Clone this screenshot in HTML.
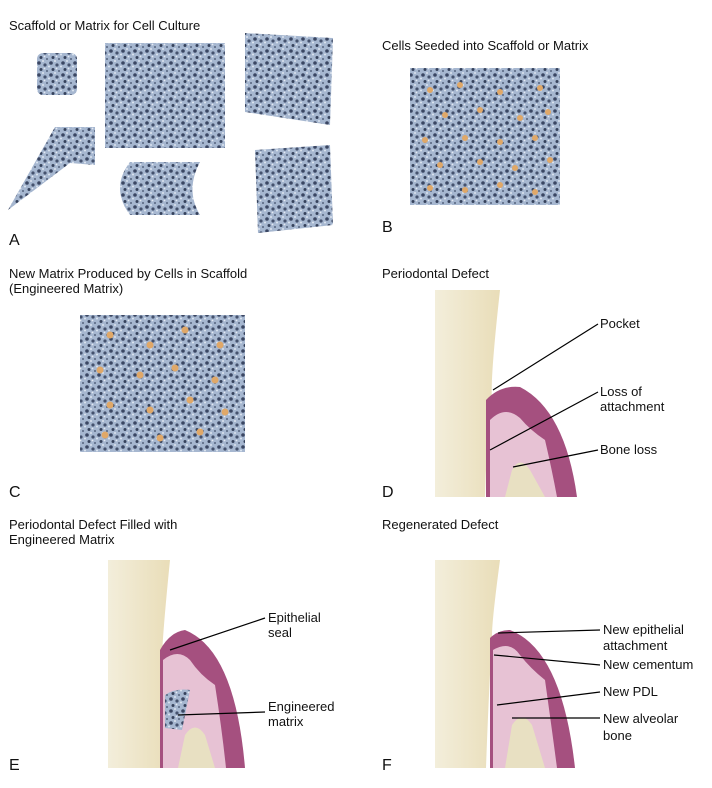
<!DOCTYPE html>
<html><head><style>
body{margin:0;background:#fff;width:712px;height:783px;overflow:hidden}
svg text{font-family:"Liberation Sans",sans-serif;font-size:13px;fill:#111}
.lt{font-size:16px}
</style></head><body>
<svg width="712" height="783" viewBox="0 0 712 783">
<defs>
<pattern id="foam" width="12" height="12" patternUnits="userSpaceOnUse">
<rect width="12" height="12" fill="#a6b7d0"/>
<circle cx="3" cy="3" r="1.8" fill="#3b4763"/>
<circle cx="9" cy="5" r="1.6" fill="#45526e"/>
<circle cx="5" cy="9.5" r="1.5" fill="#36425c"/>
<circle cx="11" cy="11" r="1" fill="#56637f"/>
<circle cx="7" cy="1" r="1" fill="#dbe3ef"/>
<circle cx="1" cy="6.5" r="1" fill="#dde5f0"/>
<circle cx="8.5" cy="8.5" r="0.9" fill="#e4eaf3"/>
</pattern>
<linearGradient id="tooth" x1="0" x2="1"><stop offset="0" stop-color="#f3eedb"/><stop offset="1" stop-color="#e9ddb8"/></linearGradient>
</defs>
<!-- A -->
<text x="9" y="30">Scaffold or Matrix for Cell Culture</text>
<rect x="37" y="53" width="40" height="42" rx="6" fill="url(#foam)"/>
<rect x="105" y="43" width="120" height="105" fill="url(#foam)"/>
<polygon points="245,33 333,38 330,125 245,112" fill="url(#foam)"/>
<polygon points="8,210 55,127 95,127 95,165 70,163" fill="url(#foam)"/>
<path d="M130,162 L200,162 Q185,190 200,215 L130,215 Q110,188 130,162Z" fill="url(#foam)"/>
<polygon points="255,150 330,145 333,225 258,233" fill="url(#foam)"/>
<text x="9" y="245" class="lt">A</text>
<!-- B -->
<text x="382" y="50">Cells Seeded into Scaffold or Matrix</text>
<rect x="410" y="68" width="150" height="137" fill="url(#foam)"/>
<g fill="#e0a868">
<circle cx="430" cy="90" r="3"/><circle cx="460" cy="85" r="3"/><circle cx="500" cy="92" r="3"/><circle cx="540" cy="88" r="3"/>
<circle cx="445" cy="115" r="3"/><circle cx="480" cy="110" r="3"/><circle cx="520" cy="118" r="3"/><circle cx="548" cy="112" r="3"/>
<circle cx="425" cy="140" r="3"/><circle cx="465" cy="138" r="3"/><circle cx="500" cy="142" r="3"/><circle cx="535" cy="138" r="3"/>
<circle cx="440" cy="165" r="3"/><circle cx="480" cy="162" r="3"/><circle cx="515" cy="168" r="3"/><circle cx="550" cy="160" r="3"/>
<circle cx="430" cy="188" r="3"/><circle cx="465" cy="190" r="3"/><circle cx="500" cy="185" r="3"/><circle cx="535" cy="192" r="3"/>
</g>
<text x="382" y="232" class="lt">B</text>
<!-- C -->
<text x="9" y="278">New Matrix Produced by Cells in Scaffold</text>
<text x="9" y="293">(Engineered Matrix)</text>
<rect x="80" y="315" width="165" height="137" fill="url(#foam)"/>
<g fill="#e0a868">
<circle cx="110" cy="335" r="3.5"/><circle cx="150" cy="345" r="3.5"/><circle cx="185" cy="330" r="3.5"/><circle cx="220" cy="345" r="3.5"/>
<circle cx="100" cy="370" r="3.5"/><circle cx="140" cy="375" r="3.5"/><circle cx="175" cy="368" r="3.5"/><circle cx="215" cy="380" r="3.5"/>
<circle cx="110" cy="405" r="3.5"/><circle cx="150" cy="410" r="3.5"/><circle cx="190" cy="400" r="3.5"/><circle cx="225" cy="412" r="3.5"/>
<circle cx="105" cy="435" r="3.5"/><circle cx="160" cy="438" r="3.5"/><circle cx="200" cy="432" r="3.5"/>
</g>
<text x="9" y="497" class="lt">C</text>
<!-- D -->
<text x="382" y="278">Periodontal Defect</text>
<path d="M435,290 L500,290 Q490,380 492,400 Q486,450 485,497 L435,497Z" fill="url(#tooth)"/>
<path d="M486,400 Q500,385 520,387 Q565,410 577,497 L486,497Z" fill="#a5507f"/>
<path d="M490,420 Q505,405 520,418 Q530,430 545,440 Q552,470 557,497 L490,497Z" fill="#e7c2d4"/>
<path d="M505,497 L512,470 Q520,455 530,470 L545,497Z" fill="#e8e0c2"/>
<g stroke="#000" stroke-width="1.2">
<line x1="493" y1="390" x2="598" y2="324"/>
<line x1="490" y1="450" x2="598" y2="392"/>
<line x1="513" y1="467" x2="598" y2="450"/>
</g>
<text x="600" y="328">Pocket</text>
<text x="600" y="396">Loss of</text>
<text x="600" y="411">attachment</text>
<text x="600" y="454">Bone loss</text>
<text x="382" y="497" class="lt">D</text>
<!-- E -->
<text x="9" y="529">Periodontal Defect Filled with</text>
<text x="9" y="544">Engineered Matrix</text>
<path d="M108,560 L170,560 Q162,640 162,660 Q160,720 160,768 L108,768Z" fill="url(#tooth)"/>
<path d="M160,650 Q170,632 185,630 Q235,650 245,768 L160,768Z" fill="#a5507f"/>
<path d="M163,660 Q178,648 190,660 Q200,675 215,685 Q222,730 226,768 L163,768Z" fill="#e7c2d4"/>
<path d="M178,768 L185,735 Q195,720 205,735 L215,768Z" fill="#e8e0c2"/>
<path d="M165,695 Q175,688 190,690 L182,730 L165,728Z" fill="url(#foam)"/>
<g stroke="#000" stroke-width="1.2">
<line x1="170" y1="650" x2="265" y2="618"/>
<line x1="178" y1="715" x2="265" y2="712"/>
</g>
<text x="268" y="622">Epithelial</text>
<text x="268" y="637">seal</text>
<text x="268" y="711">Engineered</text>
<text x="268" y="726">matrix</text>
<text x="9" y="770" class="lt">E</text>
<!-- F -->
<text x="382" y="529">Regenerated Defect</text>
<path d="M435,560 L500,560 Q492,620 492,635 Q488,710 486,768 L435,768Z" fill="url(#tooth)"/>
<path d="M490,638 Q498,630 510,630 Q562,650 575,768 L490,768Z" fill="#a5507f"/>
<path d="M493,650 Q510,640 520,655 Q530,668 545,680 Q552,730 557,768 L493,768Z" fill="#e7c2d4"/>
<path d="M505,768 L512,725 Q522,710 532,725 L545,768Z" fill="#e8e0c2"/>
<g stroke="#000" stroke-width="1.2">
<line x1="498" y1="633" x2="600" y2="630"/>
<line x1="494" y1="655" x2="600" y2="665"/>
<line x1="497" y1="705" x2="600" y2="692"/>
<line x1="512" y1="718" x2="600" y2="718"/>
</g>
<text x="603" y="634">New epithelial</text>
<text x="603" y="650">attachment</text>
<text x="603" y="669">New cementum</text>
<text x="603" y="696">New PDL</text>
<text x="603" y="723">New alveolar</text>
<text x="603" y="740">bone</text>
<text x="382" y="770" class="lt">F</text>
</svg>
</body></html>
